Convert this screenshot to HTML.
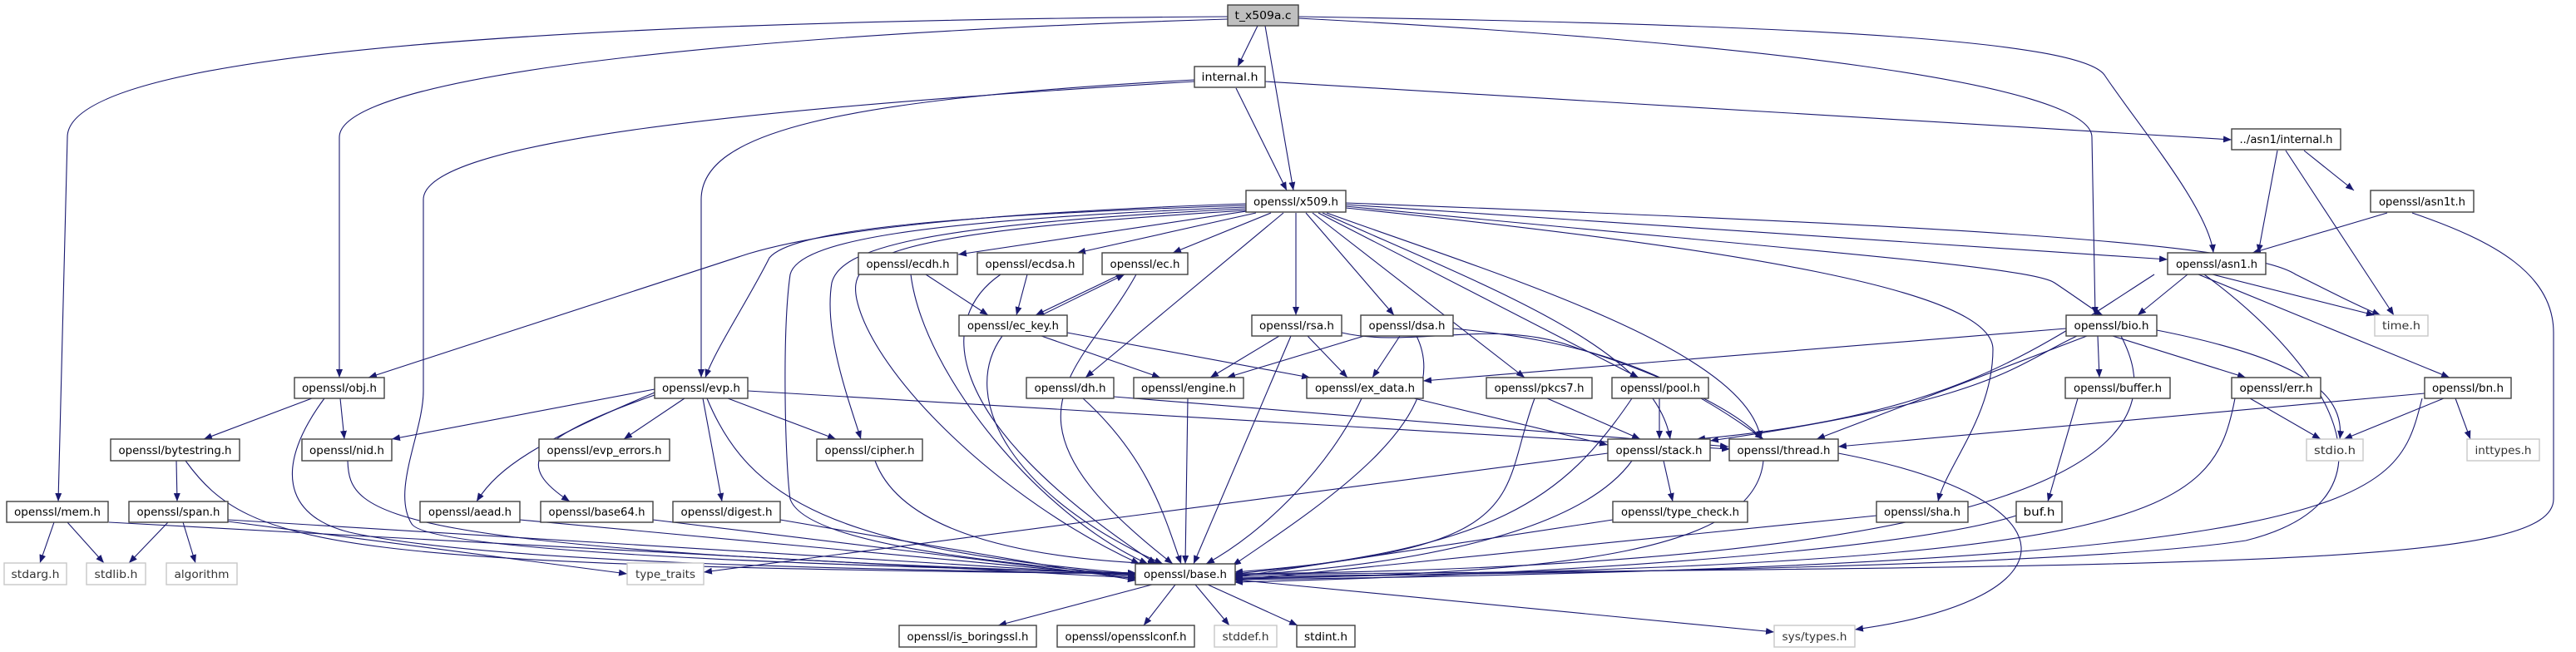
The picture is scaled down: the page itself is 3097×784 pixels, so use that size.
<!DOCTYPE html>
<html><head><meta charset="utf-8"><style>
html,body{margin:0;padding:0;background:#fff}
svg{display:block}
text{font-family:"DejaVu Sans","Liberation Sans",sans-serif;font-size:13px;fill:#000}
.n rect{fill:#fff;stroke:#404040;stroke-width:1.4}
.g rect{fill:#fff;stroke:#c8c8c8;stroke-width:1.4}
.g text{fill:#333}
.r rect{fill:#bfbfbf;stroke:#404040;stroke-width:1.4}
.e path{fill:none;stroke:#191970;stroke-width:1.1;marker-end:url(#a)}
</style></head><body>
<svg width="3097" height="784" viewBox="0 0 3097 784" xmlns="http://www.w3.org/2000/svg">
<defs><marker id="a" viewBox="0 0 10 8" refX="10" refY="4" markerWidth="10" markerHeight="8" markerUnits="userSpaceOnUse" orient="auto"><path d="M0,0 L10,4 L0,8 z" fill="#191970"/></marker></defs>
<g class="e">
<!-- t_x509a.c -->
<path d="M1476,20 C700,25 81,60 81,165 L70,603"/>
<path d="M1476,23 C900,40 408,90 408,165 L408,454"/>
<path d="M1521,31 L1555,229"/>
<path d="M1512,31 L1488,80"/>
<path d="M1561,22 C2100,50 2515,100 2515,165 L2519,379"/>
<path d="M1561,20 C2200,30 2500,50 2530,90 C2570,150 2655,250 2661,304"/>
<!-- internal.h -->
<path d="M1486,106 L1547,229"/>
<path d="M1436,96 C1000,120 843,160 843,240 L843,454"/>
<path d="M1436,98 C900,130 509,170 509,240 L509,470 C509,520 470,590 495,630 C520,670 1200,685 1366,689"/>
<path d="M1521,98 L2683,168"/>
<!-- x509.h -->
<path d="M1505,253 L1152,306"/>
<path d="M1510,256 L1295,304"/>
<path d="M1528,256 L1410,304"/>
<path d="M1558,256 L1558,379"/>
<path d="M1570,256 L1676,379"/>
<path d="M1498,245 C1200,255 1000,275 900,305 L443,454"/>
<path d="M1498,247 C1100,260 950,280 925,310 C900,360 860,420 848,454"/>
<path d="M1498,249 C1100,265 960,290 950,330 C940,400 944,560 950,600 C970,660 1250,680 1366,692"/>
<path d="M1498,251 C1100,270 1010,300 1000,340 C990,400 1020,480 1035,528"/>
<path d="M1543,256 L1305,454"/>
<path d="M1498,253 C1050,280 1020,310 1030,360 C1050,450 1200,600 1370,678"/>
<path d="M1578,256 L1833,454"/>
<path d="M1585,256 L1970,454"/>
<path d="M1590,256 C1800,350 1990,420 2008,528"/>
<path d="M1595,256 C1800,330 2100,420 2117,528"/>
<path d="M1618,250 C2100,300 2396,350 2396,420 C2396,500 2340,560 2330,603"/>
<path d="M1618,246 L2606,312"/>
<path d="M1618,248 C2150,300 2440,320 2470,340 C2500,360 2520,375 2528,379"/>
<path d="M1618,244 C2300,270 2700,290 2760,330 C2820,360 2840,370 2862,379"/>
<!-- ec family -->
<path d="M1113,330 L1188,379"/>
<path d="M1095,330 C1110,450 1250,620 1380,678"/>
<path d="M1235,330 L1222,379"/>
<path d="M1203,330 C1130,380 1120,500 1390,678"/>
<path d="M1347,330 L1245,379"/>
<path d="M1252,379 L1352,330"/>
<path d="M1366,330 C1300,450 1180,500 1410,678"/>
<path d="M1252,404 L1395,454"/>
<path d="M1283,400 L1575,454"/>
<path d="M1205,404 C1150,480 1220,600 1398,678"/>
<!-- rsa dsa -->
<path d="M1538,404 L1455,454"/>
<path d="M1572,404 L1620,454"/>
<path d="M1552,404 L1435,678"/>
<path d="M1613,400 C1700,420 1800,380 1900,420 C2000,450 2100,500 2117,528"/>
<path d="M1640,404 L1475,454"/>
<path d="M1683,404 L1650,454"/>
<path d="M1703,404 C1750,500 1600,600 1482,680"/>
<path d="M1747,395 C1900,410 2000,440 2120,528"/>
<!-- row 454 -->
<path d="M1302,479 C1380,550 1400,620 1420,678"/>
<path d="M1339,477 L2078,537"/>
<path d="M1428,479 L1425,678"/>
<path d="M1637,479 C1600,560 1520,640 1450,678"/>
<path d="M1700,479 L1933,535"/>
<path d="M1860,479 L1972,528"/>
<path d="M1845,479 C1800,600 1850,660 1484,688"/>
<path d="M1995,479 L1995,528"/>
<path d="M1962,479 C1880,600 1800,660 1484,690"/>
<!-- stack / thread -->
<path d="M1933,545 L846,688"/>
<path d="M2000,554 L2011,603"/>
<path d="M1962,554 C1900,640 1700,680 1484,692"/>
<path d="M1939,625 L1484,694"/>
<path d="M2120,554 C2110,660 1900,690 1484,696"/>
<path d="M2210,545 C2500,600 2500,720 2230,757"/>
<path d="M2256,620 L1484,698"/>
<path d="M2424,620 C2300,660 1900,690 1484,700"/>
<path d="M2498,479 L2462,603"/>
<!-- bio -->
<path d="M2484,395 L1711,458"/>
<path d="M2497,404 C2420,440 2400,480 2056,530"/>
<path d="M2509,404 L2184,528"/>
<path d="M2522,404 L2524,454"/>
<path d="M2540,404 L2700,454"/>
<path d="M2593,397 C2760,430 2820,470 2813,528"/>
<path d="M2550,404 C2600,500 2600,680 1484,690"/>
<!-- err bn -->
<path d="M2705,479 L2790,528"/>
<path d="M2687,479 C2660,620 2600,680 1484,695"/>
<path d="M2915,473 L2210,537"/>
<path d="M2938,479 L2818,528"/>
<path d="M2952,479 L2970,528"/>
<path d="M2912,479 C2880,600 2880,680 1484,697"/>
<!-- asn1 -->
<path d="M2630,330 L2570,379"/>
<path d="M2660,330 L2855,379"/>
<path d="M2643,330 L2945,454"/>
<path d="M2590,330 C2450,420 2350,500 2040,528"/>
<path d="M2650,330 C2800,440 2900,600 2700,650 C2500,680 1900,690 1484,693"/>
<path d="M2738,181 L2715,304"/>
<path d="M2770,181 L2830,229"/>
<path d="M2748,181 L2878,379"/>
<path d="M2870,256 L2708,304"/>
<path d="M2900,256 C3000,290 3070,330 3070,400 L3070,600 C3070,680 2700,680 1484,691"/>
<!-- base -->
<path d="M1385,703 L1200,752"/>
<path d="M1413,703 L1375,752"/>
<path d="M1437,703 L1478,752"/>
<path d="M1452,703 L1560,752"/>
<path d="M1484,697 L2133,760"/>
<!-- left side -->
<path d="M375,479 L245,528"/>
<path d="M409,479 L414,528"/>
<path d="M390,479 C330,560 340,620 420,640 C600,680 1100,685 1366,690"/>
<path d="M787,468 L471,528"/>
<path d="M823,479 L750,528"/>
<path d="M875,479 L1005,528"/>
<path d="M787,472 C650,530 600,560 573,603"/>
<path d="M787,475 C630,530 620,560 685,603"/>
<path d="M845,479 L868,603"/>
<path d="M850,479 C900,600 1000,660 1366,690"/>
<path d="M899,470 L2080,540"/>
<path d="M212,554 L213,603"/>
<path d="M223,554 C300,660 400,680 1366,690"/>
<path d="M418,554 C420,620 450,660 1366,690"/>
<path d="M1052,554 C1080,630 1200,670 1390,678"/>
<path d="M65,628 L48,677"/>
<path d="M81,628 L125,677"/>
<path d="M131,628 L1366,695"/>
<path d="M274,627 L754,690"/>
<path d="M202,628 L155,677"/>
<path d="M220,628 L235,677"/>
<path d="M274,625 L1366,692"/>
<path d="M625,625 L1366,694"/>
<path d="M785,625 L1366,696"/>
<path d="M938,625 L1366,698"/>
</g>
<g>
<g class="r"><rect x="1476" y="6" width="85" height="25"/><text x="1518.5" y="23" text-anchor="middle" textLength="68" lengthAdjust="spacingAndGlyphs">t_x509a.c</text></g>
<g class="n"><rect x="1436" y="80" width="85" height="25"/><text x="1478.5" y="97" text-anchor="middle" textLength="68" lengthAdjust="spacingAndGlyphs">internal.h</text></g>
<g class="n"><rect x="2683" y="155" width="131" height="25"/><text x="2748.5" y="172" text-anchor="middle" textLength="112" lengthAdjust="spacingAndGlyphs">../asn1/internal.h</text></g>
<g class="n"><rect x="1498" y="229" width="120" height="26"/><text x="1558" y="247" text-anchor="middle" textLength="102" lengthAdjust="spacingAndGlyphs">openssl/x509.h</text></g>
<g class="n"><rect x="2850" y="229" width="124" height="26"/><text x="2912" y="247" text-anchor="middle" textLength="104" lengthAdjust="spacingAndGlyphs">openssl/asn1t.h</text></g>
<g class="n"><rect x="1032" y="304" width="119" height="26"/><text x="1091.5" y="322" text-anchor="middle" textLength="100" lengthAdjust="spacingAndGlyphs">openssl/ecdh.h</text></g>
<g class="n"><rect x="1175" y="304" width="127" height="26"/><text x="1238.5" y="322" text-anchor="middle" textLength="108" lengthAdjust="spacingAndGlyphs">openssl/ecdsa.h</text></g>
<g class="n"><rect x="1325" y="304" width="103" height="26"/><text x="1376.5" y="322" text-anchor="middle" textLength="84" lengthAdjust="spacingAndGlyphs">openssl/ec.h</text></g>
<g class="n"><rect x="2606" y="304" width="118" height="26"/><text x="2665" y="322" text-anchor="middle" textLength="98" lengthAdjust="spacingAndGlyphs">openssl/asn1.h</text></g>
<g class="n"><rect x="1153" y="379" width="130" height="25"/><text x="1218" y="396" text-anchor="middle" textLength="110" lengthAdjust="spacingAndGlyphs">openssl/ec_key.h</text></g>
<g class="n"><rect x="1505" y="379" width="108" height="25"/><text x="1559" y="396" text-anchor="middle" textLength="90" lengthAdjust="spacingAndGlyphs">openssl/rsa.h</text></g>
<g class="n"><rect x="1636" y="379" width="111" height="25"/><text x="1691.5" y="396" text-anchor="middle" textLength="92" lengthAdjust="spacingAndGlyphs">openssl/dsa.h</text></g>
<g class="n"><rect x="2484" y="379" width="109" height="25"/><text x="2538.5" y="396" text-anchor="middle" textLength="90" lengthAdjust="spacingAndGlyphs">openssl/bio.h</text></g>
<g class="g"><rect x="2855" y="379" width="64" height="25"/><text x="2887" y="396" text-anchor="middle" textLength="46" lengthAdjust="spacingAndGlyphs">time.h</text></g>
<g class="n"><rect x="354" y="454" width="108" height="25"/><text x="408" y="471" text-anchor="middle" textLength="90" lengthAdjust="spacingAndGlyphs">openssl/obj.h</text></g>
<g class="n"><rect x="787" y="454" width="112" height="25"/><text x="843" y="471" text-anchor="middle" textLength="94" lengthAdjust="spacingAndGlyphs">openssl/evp.h</text></g>
<g class="n"><rect x="1234" y="454" width="105" height="25"/><text x="1286.5" y="471" text-anchor="middle" textLength="86" lengthAdjust="spacingAndGlyphs">openssl/dh.h</text></g>
<g class="n"><rect x="1363" y="454" width="132" height="25"/><text x="1429" y="471" text-anchor="middle" textLength="114" lengthAdjust="spacingAndGlyphs">openssl/engine.h</text></g>
<g class="n"><rect x="1571" y="454" width="140" height="25"/><text x="1641" y="471" text-anchor="middle" textLength="120" lengthAdjust="spacingAndGlyphs">openssl/ex_data.h</text></g>
<g class="n"><rect x="1787" y="454" width="127" height="25"/><text x="1850.5" y="471" text-anchor="middle" textLength="108" lengthAdjust="spacingAndGlyphs">openssl/pkcs7.h</text></g>
<g class="n"><rect x="1938" y="454" width="116" height="25"/><text x="1996" y="471" text-anchor="middle" textLength="96" lengthAdjust="spacingAndGlyphs">openssl/pool.h</text></g>
<g class="n"><rect x="2483" y="454" width="126" height="25"/><text x="2546" y="471" text-anchor="middle" textLength="106" lengthAdjust="spacingAndGlyphs">openssl/buffer.h</text></g>
<g class="n"><rect x="2683" y="454" width="107" height="25"/><text x="2736.5" y="471" text-anchor="middle" textLength="88" lengthAdjust="spacingAndGlyphs">openssl/err.h</text></g>
<g class="n"><rect x="2915" y="454" width="104" height="25"/><text x="2967" y="471" text-anchor="middle" textLength="86" lengthAdjust="spacingAndGlyphs">openssl/bn.h</text></g>
<g class="n"><rect x="133" y="528" width="155" height="26"/><text x="210.5" y="546" text-anchor="middle" textLength="136" lengthAdjust="spacingAndGlyphs">openssl/bytestring.h</text></g>
<g class="n"><rect x="363" y="528" width="108" height="26"/><text x="417" y="546" text-anchor="middle" textLength="90" lengthAdjust="spacingAndGlyphs">openssl/nid.h</text></g>
<g class="n"><rect x="648" y="528" width="157" height="26"/><text x="726.5" y="546" text-anchor="middle" textLength="138" lengthAdjust="spacingAndGlyphs">openssl/evp_errors.h</text></g>
<g class="n"><rect x="982" y="528" width="127" height="26"/><text x="1045.5" y="546" text-anchor="middle" textLength="108" lengthAdjust="spacingAndGlyphs">openssl/cipher.h</text></g>
<g class="n"><rect x="1933" y="528" width="123" height="26"/><text x="1994.5" y="546" text-anchor="middle" textLength="104" lengthAdjust="spacingAndGlyphs">openssl/stack.h</text></g>
<g class="n"><rect x="2079" y="528" width="131" height="26"/><text x="2144.5" y="546" text-anchor="middle" textLength="112" lengthAdjust="spacingAndGlyphs">openssl/thread.h</text></g>
<g class="g"><rect x="2773" y="528" width="68" height="26"/><text x="2807" y="546" text-anchor="middle" textLength="50" lengthAdjust="spacingAndGlyphs">stdio.h</text></g>
<g class="g"><rect x="2966" y="528" width="87" height="26"/><text x="3009.5" y="546" text-anchor="middle" textLength="68" lengthAdjust="spacingAndGlyphs">inttypes.h</text></g>
<g class="n"><rect x="8" y="603" width="122" height="25"/><text x="69" y="620" text-anchor="middle" textLength="104" lengthAdjust="spacingAndGlyphs">openssl/mem.h</text></g>
<g class="n"><rect x="155" y="603" width="119" height="25"/><text x="214.5" y="620" text-anchor="middle" textLength="100" lengthAdjust="spacingAndGlyphs">openssl/span.h</text></g>
<g class="n"><rect x="505" y="603" width="120" height="25"/><text x="565" y="620" text-anchor="middle" textLength="100" lengthAdjust="spacingAndGlyphs">openssl/aead.h</text></g>
<g class="n"><rect x="650" y="603" width="135" height="25"/><text x="717.5" y="620" text-anchor="middle" textLength="116" lengthAdjust="spacingAndGlyphs">openssl/base64.h</text></g>
<g class="n"><rect x="809" y="603" width="129" height="25"/><text x="873.5" y="620" text-anchor="middle" textLength="110" lengthAdjust="spacingAndGlyphs">openssl/digest.h</text></g>
<g class="n"><rect x="1939" y="603" width="162" height="25"/><text x="2020" y="620" text-anchor="middle" textLength="142" lengthAdjust="spacingAndGlyphs">openssl/type_check.h</text></g>
<g class="n"><rect x="2256" y="603" width="110" height="25"/><text x="2311" y="620" text-anchor="middle" textLength="92" lengthAdjust="spacingAndGlyphs">openssl/sha.h</text></g>
<g class="n"><rect x="2424" y="603" width="55" height="25"/><text x="2451.5" y="620" text-anchor="middle" textLength="38" lengthAdjust="spacingAndGlyphs">buf.h</text></g>
<g class="g"><rect x="5" y="677" width="75" height="26"/><text x="42.5" y="695" text-anchor="middle" textLength="58" lengthAdjust="spacingAndGlyphs">stdarg.h</text></g>
<g class="g"><rect x="104" y="677" width="71" height="26"/><text x="139.5" y="695" text-anchor="middle" textLength="52" lengthAdjust="spacingAndGlyphs">stdlib.h</text></g>
<g class="g"><rect x="200" y="677" width="85" height="26"/><text x="242.5" y="695" text-anchor="middle" textLength="66" lengthAdjust="spacingAndGlyphs">algorithm</text></g>
<g class="g"><rect x="754" y="677" width="92" height="26"/><text x="800" y="695" text-anchor="middle" textLength="72" lengthAdjust="spacingAndGlyphs">type_traits</text></g>
<g class="n"><rect x="1365" y="678" width="120" height="25"/><text x="1425" y="695" text-anchor="middle" textLength="100" lengthAdjust="spacingAndGlyphs">openssl/base.h</text></g>
<g class="n"><rect x="1081" y="752" width="165" height="26"/><text x="1163.5" y="770" text-anchor="middle" textLength="146" lengthAdjust="spacingAndGlyphs">openssl/is_boringssl.h</text></g>
<g class="n"><rect x="1271" y="752" width="165" height="26"/><text x="1353.5" y="770" text-anchor="middle" textLength="146" lengthAdjust="spacingAndGlyphs">openssl/opensslconf.h</text></g>
<g class="g"><rect x="1460" y="752" width="75" height="26"/><text x="1497.5" y="770" text-anchor="middle" textLength="56" lengthAdjust="spacingAndGlyphs">stddef.h</text></g>
<g class="n"><rect x="1559" y="752" width="70" height="26"/><text x="1594" y="770" text-anchor="middle" textLength="52" lengthAdjust="spacingAndGlyphs">stdint.h</text></g>
<g class="g"><rect x="2133" y="752" width="97" height="26"/><text x="2181.5" y="770" text-anchor="middle" textLength="78" lengthAdjust="spacingAndGlyphs">sys/types.h</text></g>
</g>
</svg>
</body></html>
